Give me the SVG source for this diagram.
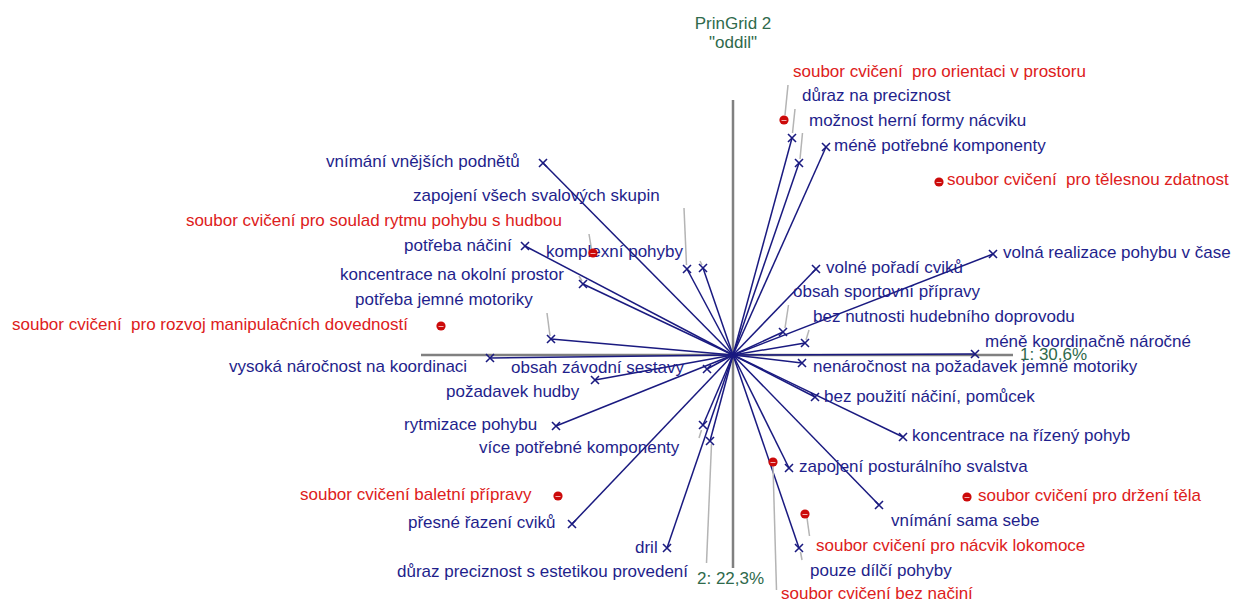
<svg xmlns="http://www.w3.org/2000/svg" xmlns:xlink="http://www.w3.org/1999/xlink" width="1234" height="602" viewBox="0 0 1234 602">
  <style>
    text { font-family: "Liberation Sans", Arial, sans-serif; font-size: 17px; }
    .c { fill: #1f1f8c; }
    .e { fill: #dd2020; white-space: pre; }
    .g { fill: #2f6a4c; }
    .mid { text-anchor: middle; }
    .end { text-anchor: end; }
    .axis { stroke: #808080; stroke-width: 2.5; fill: none; }
    .vec { stroke: #1a1a80; stroke-width: 1.5; fill: none; }
    .lead { stroke: #b4b4b4; stroke-width: 1.5; fill: none; }
  </style>
  <defs>
    <g id="x">
      <path d="M-4,-4 L4,4 M-4,4 L4,-4" stroke="#1a1a80" stroke-width="1.6" fill="none"/>
    </g>
    <g id="dot">
      <circle r="4.6" fill="#cc0a0a"/>
      <path d="M-2.5,0.5 H2.5" stroke="#f3b0b0" stroke-width="1"/>
    </g>
  </defs>
  <rect width="1234" height="602" fill="#ffffff"/>

  <!-- title -->
  <g id="title">
    <text class="g mid" x="733" y="29">PrinGrid 2</text>
    <text class="g mid" x="733" y="48">"oddil"</text>
  </g>

  <!-- principal component axes -->
  <g id="axes">
    <line class="axis" x1="733" y1="100" x2="733" y2="568"/>
    <line class="axis" x1="421" y1="355" x2="1013" y2="355"/>
    <text class="g" x="1020" y="360">1: 30,6%</text>
    <text class="g" x="697" y="584">2: 22,3%</text>
  </g>

  <!-- construct vectors from the origin and label leaders -->
  <g id="connectors">
    <g class="vec">
      <line x1="733" y1="355" x2="792" y2="138"/>
      <line x1="733" y1="355" x2="799" y2="163"/>
      <line x1="733" y1="355" x2="826" y2="147"/>
      <line x1="733" y1="355" x2="543" y2="163"/>
      <line x1="733" y1="355" x2="687" y2="269"/>
      <line x1="733" y1="355" x2="703" y2="268"/>
      <line x1="733" y1="355" x2="525" y2="246"/>
      <line x1="733" y1="355" x2="583" y2="284"/>
      <line x1="733" y1="355" x2="551" y2="339"/>
      <line x1="733" y1="355" x2="490" y2="358"/>
      <line x1="733" y1="355" x2="707" y2="369"/>
      <line x1="733" y1="355" x2="595" y2="380"/>
      <line x1="733" y1="355" x2="556" y2="426"/>
      <line x1="733" y1="355" x2="703" y2="425"/>
      <line x1="733" y1="355" x2="710" y2="441"/>
      <line x1="733" y1="355" x2="572" y2="524"/>
      <line x1="733" y1="355" x2="667" y2="548"/>
      <line x1="733" y1="355" x2="816" y2="269"/>
      <line x1="733" y1="355" x2="783" y2="332"/>
      <line x1="733" y1="355" x2="805" y2="343"/>
      <line x1="733" y1="355" x2="993" y2="254"/>
      <line x1="733" y1="355" x2="975" y2="354"/>
      <line x1="733" y1="355" x2="802" y2="363"/>
      <line x1="733" y1="355" x2="815" y2="397"/>
      <line x1="733" y1="355" x2="903" y2="437"/>
      <line x1="733" y1="355" x2="789" y2="468"/>
      <line x1="733" y1="355" x2="879" y2="505"/>
      <line x1="733" y1="355" x2="799" y2="548"/>
    </g>
    <g class="lead">
      <line x1="788" y1="85" x2="785" y2="115"/>
      <line x1="795" y1="109" x2="792.5" y2="133"/>
      <line x1="802.5" y1="133" x2="800" y2="159"/>
      <line x1="684" y1="208" x2="686.5" y2="265"/>
      <line x1="700" y1="261" x2="702" y2="265"/>
      <line x1="579" y1="276" x2="582" y2="281"/>
      <line x1="589" y1="234" x2="591.5" y2="249"/>
      <line x1="547" y1="313" x2="550" y2="336"/>
      <line x1="788.5" y1="305" x2="785" y2="328"/>
      <line x1="809" y1="330" x2="806" y2="340"/>
      <line x1="701.5" y1="430" x2="699" y2="438"/>
      <line x1="711.5" y1="444" x2="706.5" y2="563"/>
      <line x1="773" y1="466" x2="776.5" y2="590"/>
      <line x1="807" y1="518" x2="809.5" y2="536"/>
      <line x1="800.5" y1="552" x2="802" y2="560"/>
    </g>
  </g>

  <!-- construct poles -->
  <g id="c-duraz-na-preciznost"><use xlink:href="#x" x="792" y="138"/><text class="c" x="802" y="101">důraz na preciznost</text></g>
  <g id="c-moznost-herni-formy"><use xlink:href="#x" x="799" y="163"/><text class="c" x="809" y="126">možnost herní formy nácviku</text></g>
  <g id="c-mene-potrebne"><use xlink:href="#x" x="826" y="147"/><text class="c" x="834" y="151">méně potřebné komponenty</text></g>
  <g id="c-vnimani-vnejsich"><use xlink:href="#x" x="543" y="163"/><text class="c" x="326" y="167">vnímání vnějších podnětů</text></g>
  <g id="c-zapojeni-vsech"><use xlink:href="#x" x="687" y="269"/><text class="c" x="413" y="201">zapojení všech svalových skupin</text></g>
  <g id="c-komplexni-pohyby"><use xlink:href="#x" x="703" y="268"/><text class="c" x="546" y="257">komplexní pohyby</text></g>
  <g id="c-potreba-nacini"><use xlink:href="#x" x="525" y="246"/><text class="c" x="404" y="251">potřeba náčiní</text></g>
  <g id="c-koncentrace-okolni"><use xlink:href="#x" x="583" y="284"/><text class="c" x="340" y="280">koncentrace na okolní prostor</text></g>
  <g id="c-potreba-jemne"><use xlink:href="#x" x="551" y="339"/><text class="c" x="355" y="305">potřeba jemné motoriky</text></g>
  <g id="c-vysoka-narocnost"><use xlink:href="#x" x="490" y="358"/><text class="c" x="229" y="372">vysoká náročnost na koordinaci</text></g>
  <g id="c-obsah-zavodni"><use xlink:href="#x" x="707" y="369"/><text class="c" x="511" y="373">obsah závodní sestavy</text></g>
  <g id="c-pozadavek-hudby"><use xlink:href="#x" x="595" y="380"/><text class="c" x="446" y="397">požadavek hudby</text></g>
  <g id="c-rytmizace"><use xlink:href="#x" x="556" y="426"/><text class="c" x="404" y="430">rytmizace pohybu</text></g>
  <g id="c-vice-potrebne"><use xlink:href="#x" x="703" y="425"/><text class="c" x="479" y="453">více potřebné komponenty</text></g>
  <g id="c-duraz-estetika"><use xlink:href="#x" x="710" y="441"/><text class="c" x="397" y="577">důraz preciznost s estetikou provedení</text></g>
  <g id="c-presne-razeni"><use xlink:href="#x" x="572" y="524"/><text class="c" x="408" y="528">přesné řazení cviků</text></g>
  <g id="c-dril"><use xlink:href="#x" x="667" y="548"/><text class="c" x="635" y="553">dril</text></g>
  <g id="c-volne-poradi"><use xlink:href="#x" x="816" y="269"/><text class="c" x="826" y="273">volné pořadí cviků</text></g>
  <g id="c-obsah-sportovni"><use xlink:href="#x" x="783" y="332"/><text class="c" x="793" y="297">obsah sportovní přípravy</text></g>
  <g id="c-bez-nutnosti"><use xlink:href="#x" x="805" y="343"/><text class="c" x="813" y="322">bez nutnosti hudebního doprovodu</text></g>
  <g id="c-volna-realizace"><use xlink:href="#x" x="993" y="254"/><text class="c" x="1003" y="258">volná realizace pohybu v čase</text></g>
  <g id="c-mene-koordinacne"><use xlink:href="#x" x="975" y="354"/><text class="c" x="985" y="347">méně koordinačně náročné</text></g>
  <g id="c-nenarocnost"><use xlink:href="#x" x="802" y="363"/><text class="c" x="813" y="372">nenáročnost na požadavek jemné motoriky</text></g>
  <g id="c-bez-pouziti"><use xlink:href="#x" x="815" y="397"/><text class="c" x="824" y="402">bez použití náčiní, pomůcek</text></g>
  <g id="c-koncentrace-rizeny"><use xlink:href="#x" x="903" y="437"/><text class="c" x="912" y="441">koncentrace na řízený pohyb</text></g>
  <g id="c-zapojeni-posturalniho"><use xlink:href="#x" x="789" y="468"/><text class="c" x="799" y="472">zapojení posturálního svalstva</text></g>
  <g id="c-vnimani-sama"><use xlink:href="#x" x="879" y="505"/><text class="c" x="891" y="526">vnímání sama sebe</text></g>
  <g id="c-pouze-dilci"><use xlink:href="#x" x="799" y="548"/><text class="c" x="810" y="576">pouze dílčí pohyby</text></g>

  <!-- elements -->
  <g id="e-orientace"><use xlink:href="#dot" x="784" y="120"/><text class="e" xml:space="preserve" x="793" y="77">soubor cvičení  pro orientaci v prostoru</text></g>
  <g id="e-telesna-zdatnost"><use xlink:href="#dot" x="939" y="182"/><text class="e" xml:space="preserve" x="947" y="185">soubor cvičení  pro tělesnou zdatnost</text></g>
  <g id="e-soulad-rytmu"><use xlink:href="#dot" x="593" y="253"/><text class="e end" x="562" y="226">soubor cvičení pro soulad rytmu pohybu s hudbou</text></g>
  <g id="e-manipulace"><use xlink:href="#dot" x="441" y="326"/><text class="e" xml:space="preserve" x="12" y="330">soubor cvičení  pro rozvoj manipulačních dovedností</text></g>
  <g id="e-baletni"><use xlink:href="#dot" x="558" y="496"/><text class="e" x="300" y="500">soubor cvičení baletní přípravy</text></g>
  <g id="e-bez-naciní"><use xlink:href="#dot" x="773" y="462"/><text class="e" x="781" y="599">soubor cvičení bez načiní</text></g>
  <g id="e-drzeni-tela"><use xlink:href="#dot" x="967" y="497"/><text class="e" x="978" y="501">soubor cvičení pro držení těla</text></g>
  <g id="e-lokomoce"><use xlink:href="#dot" x="805" y="514"/><text class="e" x="816" y="551">soubor cvičení pro nácvik lokomoce</text></g>
</svg>
